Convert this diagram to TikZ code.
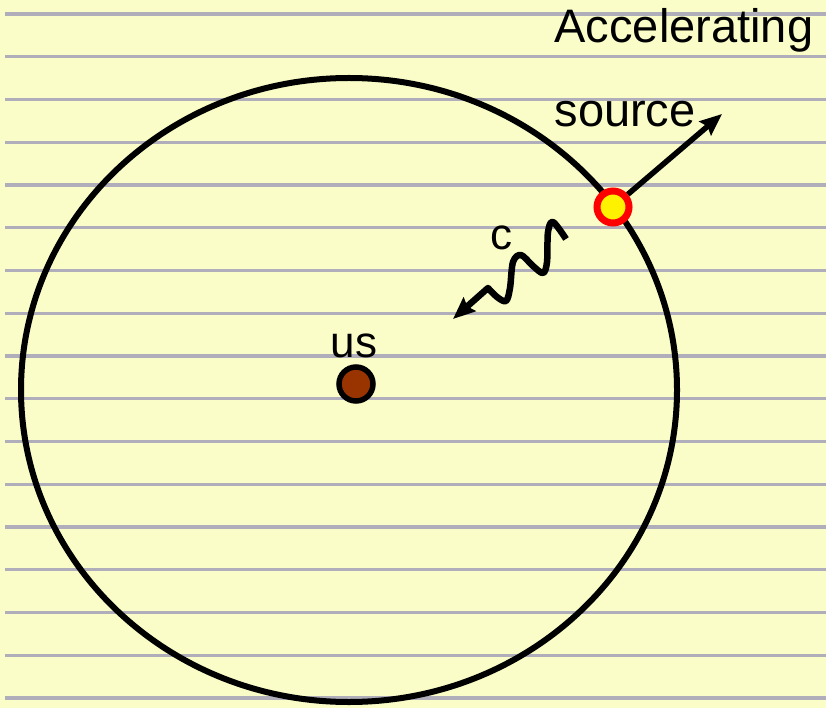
\documentclass[tikz,border=0pt]{standalone}
\usepackage{fontspec}
\setmainfont{Liberation Sans}
\usepackage{xcolor}
\usetikzlibrary{arrows.meta}

\definecolor{paper}{RGB}{250,253,200}
\definecolor{rule}{RGB}{176,174,186}
\definecolor{usbrown}{RGB}{153,51,0}

\begin{document}
\begin{tikzpicture}[x=1pt,y=-1pt]

\def\rulegap{42.75}
\def\orbitrx{328}
\def\orbitry{312}

\tikzset{
    dot/.style={
        circle,
        minimum size=34pt,
        inner sep=0pt
    },
    label/.style={
        anchor=base west,
        font=\fontsize{47}{56}\selectfont
    },
    thickarrow/.style={
        line width=5.5pt,
        -{Stealth[length=22pt,width=18pt,inset=3pt]}
    }
}

% Paper
\fill[paper] (0,0) rectangle (826,708);
\useasboundingbox (0,0) rectangle (826,708);

\foreach \k in {0,...,16}{
    \draw[rule,line width=3.4pt] (5,{14+\k*\rulegap}) -- (826,{14+\k*\rulegap});
}

% Light sphere
\draw[line width=6pt] (349,390) ellipse ({\orbitrx} and {\orbitry});

% Us
\node[dot,draw=black,line width=5.5pt,fill=usbrown] (us) at (356,384) {};
\node[font=\fontsize{44}{52}\selectfont,anchor=base] (uslabel) at (354,357) {us};

% Source
\node[dot,draw=red,line width=7pt,fill=yellow,minimum size=32pt] (src) at (613,207) {};
\coordinate (srctip) at (722,114);
\draw[thickarrow] (src) -- (srctip);

\node[label] (acc) at (551,43) {Accelerating};
\node[label] (srclabel) at (551,127) {source};

% Signal at c
\coordinate (w0) at (566,239);
\coordinate (w1) at (453,319);
\draw[thickarrow,line width=6.5pt,line join=round]
    plot[smooth,tension=0.55] coordinates {
        (w0) (553,222) (548,232) (547,262) (543,273) (533,266)
        (521,255) (513,262) (510,288) (506,301) (497,297) (488,288)
    } -- (w1);
\node[font=\fontsize{44}{52}\selectfont,anchor=base] (clabel) at (501,250) {c};

\end{tikzpicture}
\end{document}
